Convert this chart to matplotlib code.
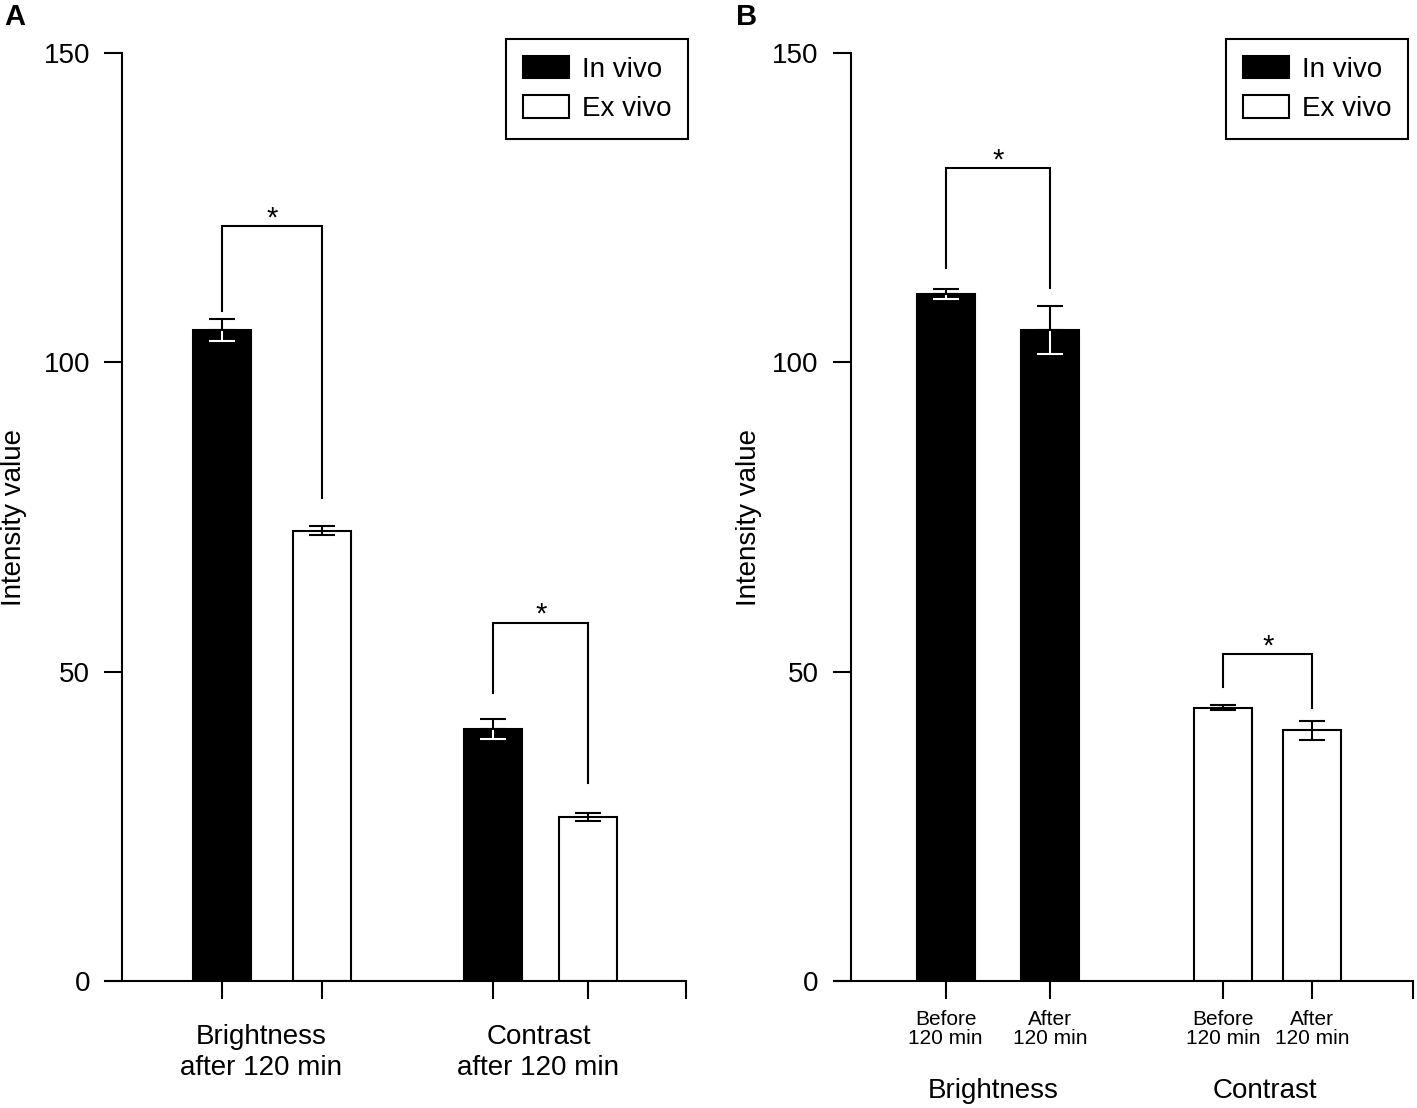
import matplotlib
matplotlib.use("Agg")
import matplotlib.pyplot as plt

plt.rcParams['font.family'] = ['Liberation Sans', 'DejaVu Sans']

# ---- data ----
# panel A
a_groups = ["Brightness\nafter 120 min", "Contrast\nafter 120 min"]
a_invivo = [105.2, 40.7]
a_invivo_err = [1.8, 1.6]
a_exvivo = [72.8, 26.5]
a_exvivo_err = [0.7, 0.7]
# significance brackets: (left bar, right bar, top, left leg end, right leg end)
a_brackets = [(0, 1, 122.0, 108.3, 78.0), (2, 3, 57.9, 46.5, 32.0)]

# panel B
b_groups = ["Brightness", "Contrast"]
b_ticklabels = ["Before\n120 min", "After\n120 min", "Before\n120 min", "After\n120 min"]
b_values = [111.0, 105.2, 44.2, 40.5]
b_err = [0.8, 3.9, 0.4, 1.6]
b_brackets = [(0, 1, 131.4, 115.3, 112.0), (2, 3, 52.8, 47.6, 44.2)]

legend_labels = ["In vivo", "Ex vivo"]

# ---- layout ----
W, H = 1417, 1108
LW = 1.5
a_pos = [2.01, 3.73, 6.68, 8.32]
a_group_pos = [2.69, 7.46]
b_pos = [1.93, 3.73, 6.72, 8.26]
b_group_pos = [2.75, 7.44]


def errbar(ax, x, v, e, dark):
    kw = dict(fmt='none', capsize=9.7, capthick=LW, elinewidth=LW, zorder=4)
    if dark:
        # lower half white inside the black bar, upper half black
        ax.errorbar([x], [v], yerr=[[e], [e]], ecolor='white', **kw)
        ax.errorbar([x], [v], yerr=[[0], [e]], ecolor='black', **kw)
    else:
        ax.errorbar([x], [v], yerr=[[e], [e]], ecolor='black', **kw)


def bracket(ax, pos, br):
    i, j, top, l_end, r_end = br
    ax.plot([pos[i], pos[i], pos[j], pos[j]], [l_end, top, top, r_end],
            color='black', lw=LW, solid_joinstyle='miter', zorder=3)
    ax.text((pos[i] + pos[j]) / 2, top, "*", ha='center', va='baseline', fontsize=21)


def style_axes(ax):
    ax.set_xlim(0, 10)
    ax.set_ylim(0, 150)
    for s in ['top', 'right']:
        ax.spines[s].set_visible(False)
    ax.spines['left'].set_position(('data', 0.29))
    for s in ['left', 'bottom']:
        ax.spines[s].set_linewidth(LW)
    ax.set_yticks([0, 50, 100, 150])
    ax.tick_params(axis='y', direction='out', length=13, width=LW, pad=10, labelsize=20)
    ax.tick_params(axis='x', which='major', direction='out', length=13, width=LW)
    ax.tick_params(axis='x', which='minor', length=0)
    ax.set_ylabel("Intensity value", fontsize=20)
    ax.patch.set_alpha(0)


fig = plt.figure(figsize=(W / 100, H / 100), dpi=100)

y0 = (H - 981) / H
hgt = (981 - 53) / H
axA = fig.add_axes([105 / W, y0, (686 - 105) / W, hgt])
axB = fig.add_axes([834 / W, y0, (1413 - 834) / W, hgt])

# panel A
axA.bar([a_pos[0], a_pos[2]], a_invivo, width=1.0, color='black',
        edgecolor='black', lw=LW, label=legend_labels[0], zorder=2)
axA.bar([a_pos[1], a_pos[3]], a_exvivo, width=1.0, color='white',
        edgecolor='black', lw=LW, label=legend_labels[1], zorder=2)
for k in range(2):
    errbar(axA, a_pos[2 * k], a_invivo[k], a_invivo_err[k], True)
    errbar(axA, a_pos[2 * k + 1], a_exvivo[k], a_exvivo_err[k], False)
for br in a_brackets:
    bracket(axA, a_pos, br)

style_axes(axA)
axA.set_xticks(a_pos + [10])
axA.set_xticklabels([])
axA.set_xticks(a_group_pos, minor=True)
axA.set_xticklabels(a_groups, minor=True, fontsize=20, linespacing=1.25)
axA.tick_params(axis='x', which='minor', pad=31)

# panel B
axB.bar(b_pos[:2], b_values[:2], width=1.0, color='black',
        edgecolor='black', lw=LW, label=legend_labels[0], zorder=2)
axB.bar(b_pos[2:], b_values[2:], width=1.0, color='white',
        edgecolor='black', lw=LW, label=legend_labels[1], zorder=2)
for k in range(4):
    errbar(axB, b_pos[k], b_values[k], b_err[k], k < 2)
for br in b_brackets:
    bracket(axB, b_pos, br)

style_axes(axB)
axB.set_xticks(b_pos + [10])
axB.set_xticklabels(b_ticklabels + [""], fontsize=15, linespacing=1.0)
axB.tick_params(axis='x', which='major', pad=8)
for gx, gl in zip(b_group_pos, b_groups):
    axB.annotate(gl, xy=(gx, 0), xycoords=('data', 'axes fraction'),
                 xytext=(0, -84), textcoords='offset points',
                 ha='center', va='baseline', fontsize=20)

# y labels and legends
axA.yaxis.set_label_coords((27 - 105) / 581, 0.5)
axB.yaxis.set_label_coords((762 - 834) / 579, 0.5)

for ax, right in [(axA, 688), (axB, 1408)]:
    leg = ax.legend(loc='upper right', bbox_to_anchor=(right / W, 1 - 39 / H),
                    bbox_transform=fig.transFigure, fontsize=20, frameon=True,
                    fancybox=False, edgecolor='black', framealpha=1,
                    handlelength=1.68, handleheight=0.88, handletextpad=0.45,
                    labelspacing=0.45, borderpad=0.6, borderaxespad=0)
    leg.get_frame().set_linewidth(LW)

fig.text(4 / W, 1 - 25 / H, "A", fontsize=21, fontweight='bold', va='baseline')
fig.text(736 / W, 1 - 25 / H, "B", fontsize=21, fontweight='bold', va='baseline')

fig.savefig("out.png", dpi=100)
